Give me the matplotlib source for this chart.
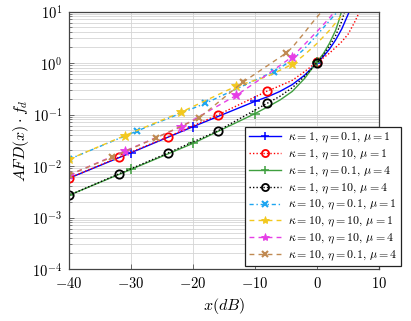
import numpy as np
import matplotlib
matplotlib.use('Agg')
import matplotlib.pyplot as plt
from matplotlib.ticker import LogLocator, FixedLocator, FuncFormatter, NullFormatter

plt.rcParams['mathtext.fontset'] = 'cm'
plt.rcParams['font.family'] = 'DejaVu Serif'

# ============================================
# Data (x in dB, AFD*fd)
# ============================================

x_b = [-40, -30, -20, -10, -8, -6, -4, -2, 0, 1, 2, 3, 4, 5, 5.3]
y_b = [0.0058, 0.0181, 0.058, 0.18, 0.22, 0.28, 0.38, 0.58, 1.0, 1.33, 1.85, 2.8, 4.6, 8.7, 10.5]
m_b = [-40, -30, -20, -10, 0]

x_r = [-40, -32, -24, -16, -8, -6, -4, -2, 0, 1, 2, 3, 4, 5, 6, 6.5, 7]
y_r = [0.0058, 0.0148, 0.037, 0.098, 0.286, 0.36, 0.46, 0.68, 1.05, 1.25, 1.55, 2.0, 2.6, 3.6, 6.0, 8.0, 11.0]
m_r = [-40, -32, -24, -16, -8, 0]

x_g = [-40, -30, -20, -10, -8, -6, -4, -2, 0, 1, 2, 3, 3.5, 4]
y_g = [0.0027, 0.0086, 0.0275, 0.104, 0.14, 0.19, 0.28, 0.5, 1.05, 1.5, 2.4, 4.3, 6.5, 10.5]
m_g = [-40, -30, -20, -10, 0]

x_k = [-40, -32, -24, -16, -8, -6, -4, -2, 0, 1, 2, 3, 4, 4.5]
y_k = [0.0027, 0.007, 0.018, 0.048, 0.166, 0.225, 0.33, 0.55, 1.02, 1.4, 2.1, 3.4, 6.5, 10.5]
m_k = [-40, -32, -24, -16, -8, 0]

x_c = [-40, -29, -18, -7, -6, -4, -2, 0, 1, 2, 3, 3.5]
y_c = [0.0135, 0.048, 0.165, 0.68, 0.8, 1.15, 1.9, 3.5, 4.8, 6.6, 9.0, 11.0]
m_c = [-40, -29, -18, -7]

x_y = [-40, -31, -22, -13, -8, -4, -2, 0, 2, 3, 4, 4.7]
y_y = [0.0135, 0.039, 0.11, 0.357, 0.55, 0.94, 1.45, 2.4, 4.3, 6.0, 8.5, 10.5]
m_y = [-40, -31, -22, -13, -4]

x_m = [-40, -31, -22, -13, -8, -4, -2, 0, 1, 2, 3]
y_m = [0.0067, 0.0195, 0.057, 0.236, 0.6, 1.32, 2.3, 4.1, 5.5, 7.5, 10.5]
m_m = [-40, -31, -22, -13, -4]

x_o = [-40, -33, -26, -19, -12, -5, -4, -3, -2, -1, 0, 1]
y_o = [0.0067, 0.015, 0.035, 0.086, 0.42, 1.55, 2.0, 2.8, 3.9, 5.6, 7.8, 10.8]
m_o = [-40, -33, -26, -19, -12, -5]

labels = [r'$\kappa = 1,\,\eta = 0.1,\,\mu = 1$',
          r'$\kappa = 1,\,\eta = 10,\,\mu = 1$',
          r'$\kappa = 1,\,\eta = 0.1,\,\mu = 4$',
          r'$\kappa = 1,\,\eta = 10,\,\mu = 4$',
          r'$\kappa = 10,\,\eta = 0.1,\,\mu = 1$',
          r'$\kappa = 10,\,\eta = 10,\,\mu = 1$',
          r'$\kappa = 10,\,\eta = 10,\,\mu = 4$',
          r'$\kappa = 10,\,\eta = 0.1,\,\mu = 4$']

x_ticks = [-40, -30, -20, -10, 0, 10]

# ============================================
# Plot
# ============================================

fig = plt.figure(figsize=(4.11, 3.21), dpi=100)
ax = fig.add_axes([69 / 411, 1 - 269 / 321, 310 / 411, 257.5 / 321])

series = [
    (x_b, y_b, m_b, dict(color='#0000ff', ls='-', marker='+', ms=7, mew=1.1)),
    (x_r, y_r, m_r, dict(color='#ff0000', ls=(0, (1, 1.5)), marker='o', ms=6, mew=1.3, mfc='none')),
    (x_g, y_g, m_g, dict(color='#3f9f3f', ls='-', marker='+', ms=7, mew=1.1)),
    (x_k, y_k, m_k, dict(color='#000000', ls=(0, (1, 1.5)), marker='o', ms=6, mew=1.3, mfc='none')),
    (x_c, y_c, m_c, dict(color='#1ea5f0', ls=(0, (3, 2, 1, 2)), marker='x', ms=5, mew=1.5)),
    (x_y, y_y, m_y, dict(color='#f2c81e', ls=(0, (3.5, 3)), marker='*', ms=7, mew=0.6)),
    (x_m, y_m, m_m, dict(color='#e63ee6', ls=(0, (3.5, 3)), marker='*', ms=7, mew=0.6)),
    (x_o, y_o, m_o, dict(color='#c08a52', ls=(0, (3.5, 3)), marker='x', ms=5, mew=1.5)),
]

for (xs, ys, marks, style), lab in zip(series, labels):
    idx = [i for i, xv in enumerate(xs) if xv in marks]
    ax.plot(xs, ys, lw=1.0, markevery=idx, label=lab, **style)

ax.set_yscale('log')
ax.set_xlim(-40, 10)
ax.set_ylim(1e-4, 1e1)

ax.xaxis.set_major_locator(FixedLocator(x_ticks))
ax.xaxis.set_major_formatter(FuncFormatter(lambda v, p: r'$%d$' % v if v >= 0 else r'$-%d$' % (-v)))
ax.yaxis.set_major_locator(LogLocator(base=10, numticks=10))
ax.yaxis.set_minor_locator(LogLocator(base=10, subs=np.arange(2, 10), numticks=20))
ax.yaxis.set_minor_formatter(NullFormatter())
ax.yaxis.set_major_formatter(FuncFormatter(lambda v, p: r'$10^{%d}$' % round(np.log10(v))))

ax.grid(True, which='major', color='#d4d4d4', lw=0.6)
ax.grid(True, which='minor', axis='y', color='#d4d4d4', lw=0.6)
ax.set_axisbelow(True)

ax.tick_params(which='both', direction='in', colors='#555555', labelcolor='black', labelsize=10.5)
ax.tick_params(which='major', length=3.5, width=0.6, pad=5)
ax.tick_params(which='minor', length=2, width=0.5)
for s in ax.spines.values():
    s.set_color('#444444')
    s.set_linewidth(0.9)

ax.set_xlabel(r'$x(dB)$', fontsize=11.5, labelpad=4)
ax.set_ylabel(r'$AFD(x) \cdot f_d$', fontsize=11.5, labelpad=1)

leg = ax.legend(loc='upper left', bbox_to_anchor=(245 / 411, 1 - 127 / 321),
                bbox_transform=fig.transFigure, fontsize=8.6, frameon=True,
                fancybox=False, edgecolor='#222222', framealpha=1,
                borderaxespad=0, borderpad=0.3, labelspacing=0.18,
                handlelength=2.7, handletextpad=0.6, markerscale=0.85,
                numpoints=1)
leg.get_frame().set_linewidth(0.9)

plt.savefig('out.png', dpi=100)
